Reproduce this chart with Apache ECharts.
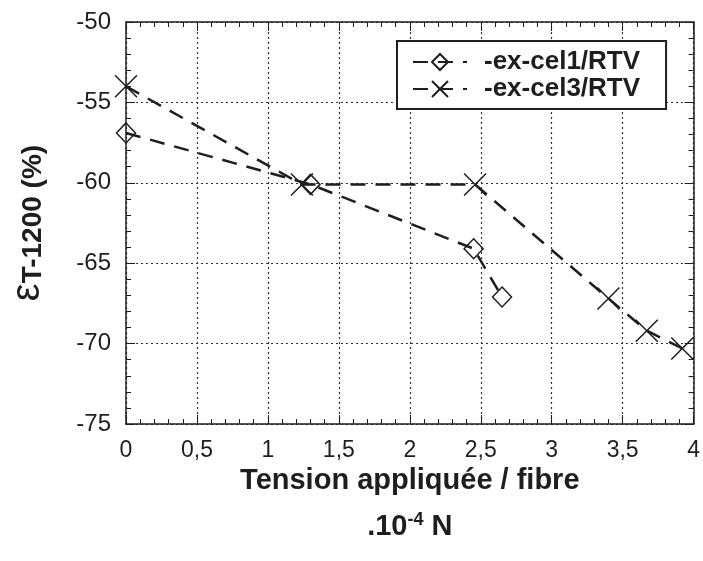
<!DOCTYPE html>
<html>
<head>
<meta charset="utf-8">
<script src="https://cdn.jsdelivr.net/npm/echarts@6/dist/echarts.min.js"></script>
<style>html,body{margin:0;padding:0;background:#fff;}#c{width:703px;height:561px;}</style>
</head>
<body>
<div id="c"></div>
<script>
const seriesNames = ['-ex-cel1/RTV', '-ex-cel3/RTV'];
const cel1X = [0, 1.3, 2.45, 2.65];
const cel1Y = [-56.9, -60.1, -64.1, -67.1];
const cel3X = [0, 1.24, 2.46, 3.4, 3.67, 3.92];
const cel3Y = [-54, -60.1, -60.1, -67.2, -69.2, -70.3];
const xTicks = [0, 0.5, 1, 1.5, 2, 2.5, 3, 3.5, 4];
const yTicks = [-75, -70, -65, -60, -55, -50];

const FONT = '"Liberation Sans", Arial, Helvetica, sans-serif';
const INK = '#1e1e1e';
const crossPath = 'path://M0,0L20,20M20,0L0,20';

function pairs(xs, ys) { return xs.map((x, i) => [x, ys[i]]); }

const chart = echarts.init(document.getElementById('c'), null, { renderer: 'canvas' });

const axisCommon = {
  axisLine: { show: true, onZero: false, lineStyle: { color: INK, width: 1.5 } },
  axisTick: { show: true, inside: true, length: 9, lineStyle: { color: INK, width: 1 } },
  minorTick: { show: true, splitNumber: 5, length: 5, lineStyle: { color: INK, width: 1 } },
};

chart.setOption({
  backgroundColor: '#ffffff',
  animation: false,
  grid: { left: 126, right: 9, top: 22, bottom: 137, containLabel: false },
  xAxis: [
    Object.assign({
      type: 'value', min: xTicks[0], max: xTicks[xTicks.length - 1], interval: 0.5,
      position: 'bottom',
      axisLabel: { color: INK, fontSize: 23, fontFamily: FONT, margin: 15,
        formatter: v => String(v).replace('.', ',') },
      splitLine: { show: true, lineStyle: { color: '#333', width: 1.2, type: [2, 3] } },
      name: '{t|Tension appliquée / fibre}\n{b|.10}{s|-4}{b| N}',
      nameLocation: 'middle', nameGap: 26,
      nameTextStyle: {
        rich: {
          t: { fontSize: 29, fontWeight: 'bold', fontFamily: FONT, color: INK, lineHeight: 46 },
          b: { fontSize: 29, fontWeight: 'bold', fontFamily: FONT, color: INK, lineHeight: 46 },
          s: { fontSize: 18, fontWeight: 'bold', fontFamily: FONT, color: INK, lineHeight: 46, padding: [0, 0, 14, 0] }
        }
      }
    }, axisCommon),
    Object.assign({
      type: 'value', min: 0, max: 4, interval: 0.5, position: 'top',
      axisLabel: { show: false }, splitLine: { show: false }
    }, axisCommon)
  ],
  yAxis: [
    Object.assign({
      type: 'value', min: yTicks[0], max: yTicks[yTicks.length - 1], interval: 5,
      position: 'left',
      axisLabel: { color: INK, fontSize: 24, fontFamily: FONT, margin: 15 },
      splitLine: { show: true, lineStyle: { color: '#333', width: 1.2, type: [2, 3] } },
      name: '{e|ε}{t|T-1200 (%)}',
      nameLocation: 'middle', nameGap: 78, nameRotate: 90,
      nameTextStyle: {
        rich: {
          e: { fontSize: 40, fontFamily: FONT, color: INK },
          t: { fontSize: 28, fontWeight: 'bold', fontFamily: FONT, color: INK, padding: [10, 0, 0, 0] }
        }
      }
    }, axisCommon),
    Object.assign({
      type: 'value', min: -75, max: -50, interval: 5, position: 'right',
      axisLabel: { show: false }, splitLine: { show: false }
    }, axisCommon)
  ],
  legend: {
    orient: 'vertical', left: 397, top: 41,
    backgroundColor: '#fff', borderColor: INK, borderWidth: 2,
    padding: [8, 26, 7, 15], itemGap: 1,
    itemWidth: 54, itemHeight: 20,
    textStyle: { fontSize: 26, fontWeight: 'bold', fontFamily: FONT, color: INK, padding: [0, 0, 0, 12] },
    data: seriesNames
  },
  series: [
    {
      name: seriesNames[0], type: 'line', xAxisIndex: 0, yAxisIndex: 0,
      data: pairs(cel1X, cel1Y),
      symbol: 'diamond', symbolSize: [19, 20],
      itemStyle: { color: 'rgba(0,0,0,0)', borderColor: INK, borderWidth: 1.5 },
      lineStyle: { color: INK, width: 2.5, type: [15, 10] },
      z: 3
    },
    {
      name: seriesNames[1], type: 'line', xAxisIndex: 0, yAxisIndex: 0,
      data: pairs(cel3X, cel3Y),
      symbol: crossPath, symbolSize: 22, symbolKeepAspect: true,
      itemStyle: { color: 'rgba(0,0,0,0)', borderColor: INK, borderWidth: 1.5 },
      lineStyle: { color: INK, width: 2.5, type: [15, 10] },
      z: 3
    }
  ]
});
</script>
</body>
</html>
